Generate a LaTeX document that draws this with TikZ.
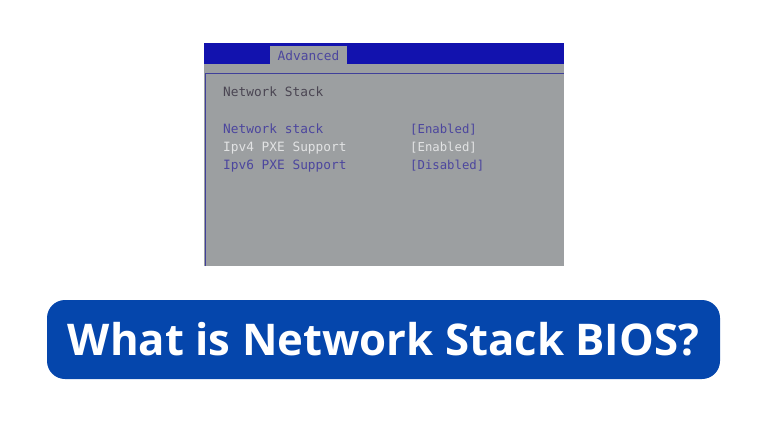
\documentclass[tikz,border=0pt]{standalone}
\usepackage{fontspec}
\setmainfont{Open Sans}
\setmonofont{DejaVu Sans Mono}
\usetikzlibrary{matrix}
\definecolor{biosblue}{HTML}{1212AE}
\definecolor{biosgray}{HTML}{9C9FA1}
\definecolor{biosline}{HTML}{3F3F9A}
\definecolor{biostext}{HTML}{4C469E}
\definecolor{biosdark}{HTML}{4A4552}
\definecolor{bioswhite}{HTML}{E2E3E4}
\definecolor{titleblue}{HTML}{0546AC}
\tikzset{
  biosfont/.style={font=\fontsize{12.8}{15}\ttfamily,inner sep=0pt},
  valuefont/.style={font=\fontsize{12.3}{15}\ttfamily},
  active/.style={text=biostext},
  muted/.style={text=bioswhite}
}

\begin{document}
\begin{tikzpicture}[x=1pt,y=-1pt,ampersand replacement=\&]
\useasboundingbox (0,0) rectangle (768,432);
\fill [biosgray] (204,43) rectangle (564,266);
\fill [biosblue] (204,43) rectangle (564,64);
\fill [biosgray] (270,46) rectangle (347,64);
\draw [biosline,line width=1pt] (205,266) -- (205,73.5) -- (564,73.5);

\node [biosfont,active,anchor=base west] (tab) at (277.5,60) {Advanced};
\node [biosfont,text=biosdark,anchor=base west] (heading) at (223,96) {Network Stack};

\matrix (m) [matrix of nodes,biosfont,matrix anchor=m-1-1.base west,
  row sep={18pt,between origins},column sep={187pt,between origins},
  nodes={anchor=base west,inner sep=0pt},at={(223,133)}]
{ |[active]| Network stack \& |[active,valuefont]| [Enabled] \\
  |[muted]| Ipv4 PXE Support \& |[muted,valuefont]| [Enabled] \\
  |[active]| Ipv6 PXE Support \& |[active,valuefont]| [Disabled] \\
} ;

\node [fill=titleblue,rounded corners=18pt,minimum width=673pt,minimum height=79pt,
  inner sep=0pt,text=white,font=\fontsize{43.7}{50}\bfseries] (title) at (383.5,339.5)
  {What is Network Stack BIOS?};
\end{tikzpicture}
\end{document}
